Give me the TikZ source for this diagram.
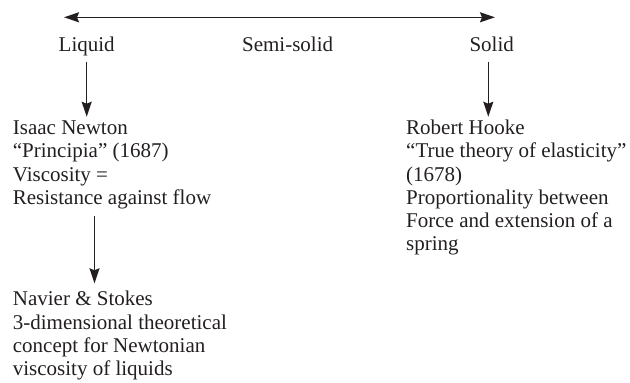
\documentclass[tikz,border=0pt]{standalone}
\usepackage{fontspec}
\setmainfont{Liberation Serif}
\usetikzlibrary{arrows.meta}
\definecolor{ink}{HTML}{231F20}
\begin{document}
\begin{tikzpicture}[x=1pt,y=1pt,
  lbl/.style={inner sep=0pt, anchor=base, text=ink, font=\fontsize{21}{23.3}\selectfont},
  blk/.style={inner sep=0pt, anchor=base west, text=ink, font=\fontsize{21}{23.3}\selectfont},
  tip/.style={Stealth[length=15pt,width=10pt,inset=2pt]},
  arr/.style={draw=ink, line width=1.4pt, -{Stealth[length=15pt,width=10pt,inset=2pt]}},
  darr/.style={draw=ink, line width=1.4pt, {Stealth[length=15pt,width=10pt,inset=2pt]}-{Stealth[length=15pt,width=10pt,inset=2pt]}}]
\useasboundingbox (0,0) rectangle (630,383);
\coordinate (L) at (64,365.7);
\coordinate (R) at (495,365.7);
\draw[darr] (L) -- (R);
\node[lbl] (liq) at (86.7,331.3) {Liquid};
\node[lbl] (semi) at (287.6,331.3) {Semi-solid};
\node[lbl] (sol) at (491.7,331.3) {Solid};
\node[blk] (newton) at (12.7,248.5) {\parbox[t]{250pt}{\raggedright Isaac Newton\\
``Principia'' (1687)\\
Viscosity =\\
Resistance against flow}};
\node[blk] (hooke) at (406,248.5) {\parbox[t]{230pt}{\raggedright Robert Hooke\\
``True theory of elasticity''\\
(1678)\\
Proportionality between\\
Force and extension of a\\
spring}};
\node[blk] (navier) at (12.7,77) {\parbox[t]{250pt}{\raggedright Navier \& Stokes\\
3-dimensional theoretical\\
concept for Newtonian\\
viscosity of liquids}};
\coordinate (a1s) at (86.7,321.3);
\coordinate (a1e) at (86.7,266.3);
\coordinate (a2s) at (488.3,321.3);
\coordinate (a2e) at (488.3,266.3);
\coordinate (a3s) at (94.5,167.3);
\coordinate (a3e) at (94.5,99.7);
\draw[arr] (a1s) -- (a1e);
\draw[arr] (a2s) -- (a2e);
\draw[arr] (a3s) -- (a3e);
\end{tikzpicture}
\end{document}
